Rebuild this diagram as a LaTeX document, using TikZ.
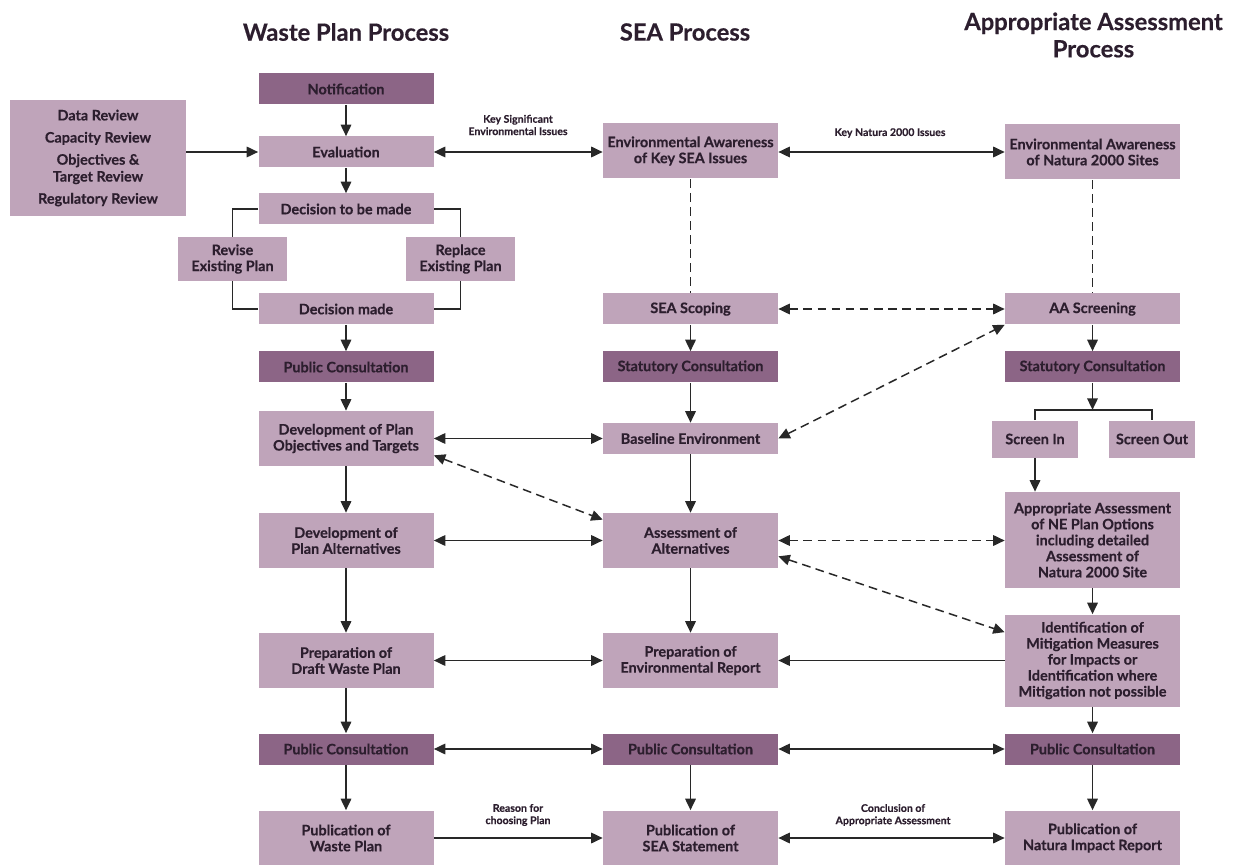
\documentclass[tikz,border=0pt]{standalone}
\usepackage{fontspec}
\setmainfont{Lato}[BoldFeatures={FakeBold=0.4}]
\usetikzlibrary{arrows.meta, calc}

\definecolor{boxlight}{RGB}{191,164,186}
\definecolor{boxdark}{RGB}{140,101,134}
\definecolor{inkdark}{RGB}{44,30,46}
\definecolor{lineink}{RGB}{40,40,40}

\begin{document}
\begin{tikzpicture}[
        font=\fontsize{8.2}{9.1}\selectfont\bfseries,
        stage/.style={fill=boxlight, text=inkdark, minimum width=3.5cm, minimum height=0.62cm, align=center, inner sep=1pt},
        consult/.style={stage, fill=boxdark},
        tall/.style={minimum height=1.1cm},
        flow/.style={-{Triangle[length=6.5pt,width=6pt]}, lineink, line width=0.85pt},
        both/.style={{Triangle[length=6.5pt,width=6pt]}-{Triangle[length=6.5pt,width=6pt]}, lineink, line width=0.85pt},
        link/.style={lineink, line width=0.85pt},
        loose/.style={dash pattern=on 5pt off 3pt},
        hint/.style={font=\fontsize{6}{7}\selectfont\bfseries, text=inkdark, align=center},
        title/.style={font=\fontsize{13.5}{15.5}\selectfont\bfseries, text=inkdark, align=center}
    ]
        \useasboundingbox (0,0) rectangle (24.72,-17.3);

        % Column headings
        \node[title] (wphead) at (6.92,-0.64) {Waste Plan Process};
        \node[title] (seahead) at (13.7,-0.64) {SEA Process};
        \node[title] (aahead) at (21.87,-0.7) {Appropriate Assessment\\Process};

        % Waste plan column
        \node[consult] (notif) at (6.92,-1.78) {Notification};
        \node[stage] (eval) at (6.92,-3.04) {Evaluation};
        \node[stage] (decide) at (6.92,-4.18) {Decision to be made};
        \node[stage, minimum width=2.18cm, minimum height=0.88cm] (revise) at (4.65,-5.18) {Revise\\Existing Plan};
        \node[stage, minimum width=2.18cm, minimum height=0.88cm] (replace) at (9.21,-5.18) {Replace\\Existing Plan};
        \node[stage] (made) at (6.92,-6.18) {Decision made};
        \node[consult] (wpcons) at (6.92,-7.34) {Public Consultation};
        \node[stage, tall] (objectives) at (6.92,-8.77) {Development of Plan\\Objectives and Targets};
        \node[stage, tall] (alternatives) at (6.92,-10.81) {Development of\\Plan Alternatives};
        \node[stage, tall] (draft) at (6.92,-13.21) {Preparation of\\Draft Waste Plan};
        \node[consult] (wppublic) at (6.92,-14.98) {Public Consultation};
        \node[stage, tall] (wpfinal) at (6.92,-16.76) {Publication of\\Waste Plan};

        % Reviews feeding the evaluation
        \node[stage, minimum width=3.52cm, minimum height=2.32cm, font=\fontsize{8.2}{9.6}\selectfont\bfseries] (reviews) at (1.96,-3.16)
            {Data Review\\[3pt]Capacity Review\\[3pt]Objectives \&\\Target Review\\[3pt]Regulatory Review};

        % SEA column
        \node[stage, tall] (seaaware) at (13.81,-3.02) {Environmental Awareness\\of Key SEA Issues};
        \node[stage] (scoping) at (13.81,-6.18) {SEA Scoping};
        \node[consult] (seastat) at (13.81,-7.34) {Statutory Consultation};
        \node[stage] (baseline) at (13.81,-8.77) {Baseline Environment};
        \node[stage, tall] (assess) at (13.81,-10.81) {Assessment of\\Alternatives};
        \node[stage, tall] (envreport) at (13.81,-13.21) {Preparation of\\Environmental Report};
        \node[consult] (seapublic) at (13.81,-14.98) {Public Consultation};
        \node[stage, tall] (seafinal) at (13.81,-16.76) {Publication of\\SEA Statement};

        % Appropriate assessment column
        \node[stage, tall] (naturaaware) at (21.85,-3.04) {Environmental Awareness\\of Natura 2000 Sites};
        \node[stage] (screening) at (21.85,-6.18) {AA Screening};
        \node[consult] (aastat) at (21.85,-7.34) {Statutory Consultation};
        \node[stage, minimum width=1.72cm, minimum height=0.74cm] (screenin) at (20.70,-8.78) {Screen In};
        \node[stage, minimum width=1.72cm, minimum height=0.74cm] (screenout) at (23.04,-8.78) {Screen Out};
        \node[stage, minimum height=1.92cm] (aaoptions) at (21.85,-10.8)
            {Appropriate Assessment\\of NE Plan Options\\including detailed\\Assessment of\\Natura 2000 Site};
        \node[stage, minimum height=1.84cm] (mitigation) at (21.85,-13.21)
            {Identification of\\Mitigation Measures\\for Impacts or\\Identification where\\Mitigation not possible};
        \node[consult] (aapublic) at (21.85,-14.98) {Public Consultation};
        \node[stage, tall] (aafinal) at (21.85,-16.76) {Publication of\\Natura Impact Report};

        % Waste plan flow
        \draw[flow] (notif) -- (eval);
        \draw[flow] (eval) -- (decide);
        \draw[flow] (reviews.east |- eval) -- (eval.west);
        \draw[link] (decide.west) -| (revise.north);
        \draw[link] (revise.south) |- (made.west);
        \draw[link] (decide.east) -| (replace.north);
        \draw[link] (replace.south) |- (made.east);
        \draw[flow] (made) -- (wpcons);
        \draw[flow] (wpcons) -- (objectives);
        \draw[flow] (objectives) -- (alternatives);
        \draw[flow] (alternatives) -- (draft);
        \draw[flow] (draft) -- (wppublic);
        \draw[flow] (wppublic) -- (wpfinal);

        % SEA flow
        \draw[link, loose] (seaaware) -- (scoping);
        \draw[flow] (scoping) -- (seastat);
        \draw[flow] (seastat) -- (baseline);
        \draw[flow] (baseline) -- (assess);
        \draw[flow] (assess) -- (envreport);
        \draw[flow] (seapublic) -- (seafinal);

        % AA flow
        \draw[link, loose] (naturaaware) -- (screening);
        \draw[flow] (screening) -- (aastat);
        \coordinate (fork) at ($(aastat.south)+(0,-0.54)$);
        \draw[flow] (aastat) -- (fork);
        \draw[link] (screenin.north) |- (fork) -| (screenout.north);
        \draw[flow] (screenin.south) -- (screenin.south |- aaoptions.north);
        \draw[flow] (aaoptions) -- (mitigation);
        \draw[flow] (mitigation) -- (aapublic);
        \draw[flow] (aapublic) -- (aafinal);

        % Links across the columns
        \draw[both] (eval.east) -- (eval.east -| seaaware.west);
        \node[hint] (keysig) at (10.36,-2.5) {Key Significant\\Environmental Issues};
        \draw[both] (seaaware.east |- naturaaware) -- (naturaaware.west);
        \node[hint] (keynat) at (17.8,-2.66) {Key Natura 2000 Issues};
        \draw[both, loose] (scoping) -- (screening);
        \draw[both] (objectives) -- (baseline);
        \draw[both, loose] (baseline.east) -- (screening.south west);
        \draw[both, loose] ($(objectives.south east)+(0,0.22)$) -- ($(assess.north west)+(0,-0.14)$);
        \draw[both] (alternatives) -- (assess);
        \draw[both, loose] (assess.east) -- (assess.east -| aaoptions.west);
        \draw[both, loose] ($(assess.south east)+(0,0.24)$) -- ($(mitigation.north west)+(0,-0.36)$);
        \draw[both] (draft) -- (envreport);
        \draw[flow] (mitigation) -- (envreport);
        \draw[both] (wppublic) -- (seapublic);
        \draw[both] (seapublic) -- (aapublic);
        \draw[flow] (wpfinal) -- (seafinal);
        \node[hint] (reason) at (10.36,-16.3) {Reason for\\choosing Plan};
        \draw[both] (seafinal) -- (aafinal);
        \node[hint] (conclusion) at (17.86,-16.3) {Conclusion of\\Appropriate Assessment};
    \end{tikzpicture}
\end{document}
